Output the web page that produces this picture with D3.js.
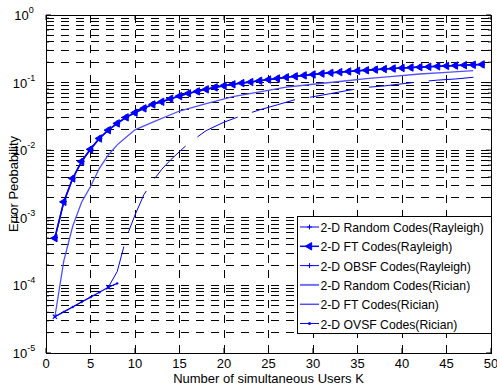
<!DOCTYPE html>
<html>
<head>
<meta charset="utf-8">
<script src="https://cdn.jsdelivr.net/npm/d3@7/dist/d3.min.js"></script>
<style>
body { margin: 0; background: #fff; }
text { font-family: "Liberation Sans", Arial, sans-serif; fill: #000; }
</style>
</head>
<body>
<div id="chart"></div>
<script>
// Error probability vs simultaneous users (log scale, matlab style)

var xTicks = [0, 5, 10, 15, 20, 25, 30, 35, 40, 45, 50];
var yDecades = [1e-5, 1e-4, 1e-3, 1e-2, 1e-1, 1];
var yTickExp = ['-5', '-4', '-3', '-2', '-1', '0'];

var kFull = [1, 2, 3, 4, 5, 6, 7, 8, 9, 10, 11, 12, 13, 14, 15, 16, 17, 18, 19, 20, 21, 22, 23, 24, 25,
    26, 27, 28, 29, 30, 31, 32, 33, 34, 35, 36, 37, 38, 39, 40, 41, 42, 43, 44, 45, 46, 47, 48, 49];
var randomRayleigh = [5.1e-4, 1.73e-3, 3.84e-3, 6.85e-3, 1.04e-2, 1.5e-2, 1.99e-2, 2.5e-2, 3.07e-2, 3.59e-2,
    4.17e-2, 4.78e-2, 5.22e-2, 5.78e-2, 6.33e-2, 6.95e-2, 7.43e-2, 7.96e-2, 8.51e-2, 9.0e-2,
    9.44e-2, 9.86e-2, 0.102, 0.1067, 0.111, 0.1153, 0.1198, 0.124, 0.128, 0.132,
    0.136, 0.1396, 0.143, 0.1464, 0.1495, 0.1526, 0.1557, 0.159, 0.1617, 0.1644,
    0.1672, 0.1695, 0.1718, 0.1742, 0.1766, 0.179, 0.1815, 0.1834, 0.1859];
var ftRayleigh = [5.0e-4, 1.72e-3, 3.82e-3, 6.8e-3, 1.03e-2, 1.49e-2, 1.98e-2, 2.49e-2, 3.06e-2, 3.58e-2,
    4.16e-2, 4.76e-2, 5.2e-2, 5.76e-2, 6.31e-2, 6.93e-2, 7.41e-2, 7.94e-2, 8.49e-2, 8.98e-2,
    9.42e-2, 9.84e-2, 0.1018, 0.1065, 0.1108, 0.1151, 0.1196, 0.1238, 0.1278, 0.1318,
    0.1358, 0.1394, 0.1428, 0.1462, 0.1493, 0.1524, 0.1555, 0.1588, 0.1615, 0.1642,
    0.167, 0.1693, 0.1716, 0.174, 0.1764, 0.1788, 0.1813, 0.1832, 0.1857];

var kObsf = [1, 7, 8, 9, 10, 11, 12, 13, 14, 16, 18, 20, 22, 24, 26, 28, 30, 32, 34, 36, 38, 40, 42, 44, 46, 48, 49];
var obsfRayleigh = [3.44e-5, 9.4e-5, 1.6e-4, 5.0e-4, 1.1e-3, 2.2e-3, 3.5e-3, 5.2e-3, 7.2e-3, 1.26e-2, 1.95e-2,
    2.6e-2, 3.25e-2, 3.95e-2, 4.7e-2, 5.6e-2, 6.18e-2, 6.88e-2, 7.7e-2, 8.5e-2, 8.93e-2, 9.6e-2,
    0.1027, 0.1089, 0.1131, 0.1198, 0.1222];
var obsfMarkK = [1, 7];

var kRician = [1, 2, 3, 4, 5, 6, 7, 8, 9, 10, 12, 15, 18, 21, 24, 27, 30, 33, 36, 39, 42, 45, 48];
var randomRician = [3.44e-5, 2.3e-4, 7.5e-4, 1.7e-3, 2.9e-3, 5.4e-3, 8.5e-3, 1.2e-2, 1.55e-2, 2.0e-2, 2.6e-2,
    3.8e-2, 4.9e-2, 6.2e-2, 7.3e-2, 8.55e-2, 9.46e-2, 0.1038, 0.1146, 0.124, 0.134, 0.142, 0.150];

var kOvsf = [1, 2, 3, 4, 5, 6, 7, 8];
var ovsfRician = [3.44e-5, 4.06e-5, 4.8e-5, 5.67e-5, 6.7e-5, 7.9e-5, 9.4e-5, 1.07e-4];

var legendLabels = ['2-D Random Codes(Rayleigh)', '2-D FT Codes(Rayleigh)', '2-D OBSF Codes(Rayleigh)',
    '2-D Random Codes(Rician)', '2-D FT Codes(Rician)', '2-D OVSF Codes(Rician)'];

var margin = { top: 15, right: 6, bottom: 37, left: 46 };
var width = 497 - margin.left - margin.right;
var height = 390 - margin.top - margin.bottom;

var svg = d3.select('#chart').append('svg').attr('width', 497).attr('height', 390);
var g = svg.append('g').attr('transform', 'translate(' + margin.left + ',' + margin.top + ')');

var x = d3.scaleLinear().domain([0, 50]).range([0, width]);
var y = d3.scaleLog().domain([1e-5, 1]).range([height, 0]);

// grid
var minorVals = [];
yDecades.slice(0, 5).forEach(function(d) {
    [1, 2, 3, 4, 5, 6, 7, 8, 9].forEach(function(m) { minorVals.push(d * m); });
});
var grid = g.append('g').attr('shape-rendering', 'crispEdges');
grid.selectAll('.hgrid').data(minorVals.slice(1)).enter().append('line')
    .attr('x1', 0).attr('x2', width)
    .attr('y1', function(d) { return y(d); }).attr('y2', function(d) { return y(d); })
    .attr('stroke', '#000').attr('stroke-dasharray', '8,7');
grid.selectAll('.vgrid').data(xTicks.slice(1, -1)).enter().append('line')
    .attr('x1', function(d) { return x(d); }).attr('x2', function(d) { return x(d); })
    .attr('y1', height).attr('y2', 0)
    .attr('stroke', '#000').attr('stroke-dasharray', '8,7');

// ticks
g.selectAll('.xtb').data(xTicks).enter().append('line')
    .attr('x1', function(d) { return x(d); }).attr('x2', function(d) { return x(d); })
    .attr('y1', height).attr('y2', height - 5).attr('stroke', '#000');
g.selectAll('.xtt').data(xTicks).enter().append('line')
    .attr('x1', function(d) { return x(d); }).attr('x2', function(d) { return x(d); })
    .attr('y1', 0).attr('y2', 5).attr('stroke', '#000');
g.selectAll('.ytl').data(minorVals.concat([1])).enter().append('line')
    .attr('x1', 0).attr('x2', function(d, i) { return i % 9 === 0 ? 5 : 3; })
    .attr('y1', function(d) { return y(d); }).attr('y2', function(d) { return y(d); }).attr('stroke', '#000');
g.selectAll('.ytr').data(minorVals.concat([1])).enter().append('line')
    .attr('x1', width).attr('x2', function(d, i) { return i % 9 === 0 ? width - 5 : width - 3; })
    .attr('y1', function(d) { return y(d); }).attr('y2', function(d) { return y(d); }).attr('stroke', '#000');

g.append('rect').attr('width', width).attr('height', height).attr('fill', 'none').attr('stroke', '#000')
    .attr('shape-rendering', 'crispEdges');

// tick labels
g.selectAll('.xl').data(xTicks).enter().append('text')
    .attr('x', function(d) { return x(d); }).attr('y', height + 15)
    .attr('text-anchor', 'middle').style('font-size', '13px').text(function(d) { return d; });
var yl = g.selectAll('.yl').data(yDecades).enter().append('text')
    .attr('x', -22).attr('y', function(d) { return y(d) + 5; })
    .attr('text-anchor', 'middle').style('font-size', '13px');
yl.append('tspan').text('10');
yl.append('tspan').attr('dy', -7).style('font-size', '9px').text(function(d, i) { return yTickExp[i]; });

svg.append('text').attr('x', margin.left + width / 2).attr('y', 383).attr('text-anchor', 'middle')
    .style('font-size', '13px').text('Number of simultaneous Users K');
svg.append('text').attr('transform', 'translate(18,' + (margin.top + height / 2) + ') rotate(-90)')
    .attr('text-anchor', 'middle').style('font-size', '13px').text('Error Peobability');

// lines
var clip = g.append('clipPath').attr('id', 'clip').append('rect').attr('width', width).attr('height', height);
var plot = g.append('g').attr('clip-path', 'url(#clip)');
function pts(ks, vs) { return ks.map(function(k, i) { return [k, vs[i]]; }); }
var line = d3.line().x(function(d) { return x(d[0]); }).y(function(d) { return y(d[1]); });

plot.append('path').datum(pts(kRician, randomRician)).attr('d', line)
    .attr('fill', 'none').attr('stroke', '#5050ff').attr('stroke-width', 1.3);
plot.append('path').datum(pts(kObsf, obsfRayleigh)).attr('d', line)
    .attr('fill', 'none').attr('stroke', '#0000ff').attr('stroke-width', 1).attr('stroke-dasharray', '45,15');
plot.append('path').datum(pts(kOvsf, ovsfRician)).attr('d', line)
    .attr('fill', 'none').attr('stroke', '#0000ff').attr('stroke-width', 1.2);
plot.append('path').datum(pts(kFull, randomRayleigh)).attr('d', line)
    .attr('fill', 'none').attr('stroke', '#0000ff').attr('stroke-width', 1.5);
plot.append('path').datum(pts(kFull, ftRayleigh)).attr('d', line)
    .attr('fill', 'none').attr('stroke', '#0000ff').attr('stroke-width', 1.5);

var tri = d3.symbol().type(d3.symbolTriangle).size(24);
function plusPath(s) { return 'M' + (-s) + ',0H' + s + 'M0,' + (-s) + 'V' + s; }

plot.selectAll('.ovsf').data(pts(kOvsf, ovsfRician)).enter().append('circle')
    .attr('cx', function(d) { return x(d[0]); }).attr('cy', function(d) { return y(d[1]); })
    .attr('r', 1.2).attr('fill', '#0000ff');
plot.selectAll('.obsfm').data(pts(kObsf, obsfRayleigh).filter(function(d) { return obsfMarkK.indexOf(d[0]) >= 0; }))
    .enter().append('path').attr('d', plusPath(3))
    .attr('transform', function(d) { return 'translate(' + x(d[0]) + ',' + y(d[1]) + ') rotate(45)'; })
    .attr('stroke', '#0000ff').attr('stroke-width', 1.2);
plot.selectAll('.rrm').data(pts(kFull, randomRayleigh)).enter().append('path').attr('d', plusPath(3))
    .attr('transform', function(d) { return 'translate(' + x(d[0]) + ',' + y(d[1]) + ')'; })
    .attr('stroke', '#0000ff').attr('stroke-width', 1.2);
plot.selectAll('.ftm').data(pts(kFull, ftRayleigh)).enter().append('path').attr('d', tri)
    .attr('transform', function(d) { return 'translate(' + x(d[0]) + ',' + y(d[1]) + ') rotate(-90)'; })
    .attr('fill', '#0000ff').attr('stroke', '#0000ff');

// legend
var lg = svg.append('g').attr('transform', 'translate(297,216)');
lg.append('rect').attr('width', 194).attr('height', 117).attr('fill', '#fff').attr('stroke', '#000')
    .attr('shape-rendering', 'crispEdges');
var rowY = function(i) { return 11 + i * 19.3; };
var legendColor = ['#0000ff', '#0000ff', '#0000ff', '#7070ff', '#0000ff', '#0000ff'];
var legendWidth = [1, 1.5, 1, 2, 1, 1];
legendLabels.forEach(function(label, i) {
    lg.append('line').attr('x1', 3).attr('x2', 22).attr('y1', rowY(i)).attr('y2', rowY(i))
        .attr('stroke', legendColor[i]).attr('stroke-width', legendWidth[i]);
    lg.append('text').attr('x', 23.5).attr('y', rowY(i) + 5).style('font-size', '12.2px').text(label);
});
lg.append('path').attr('d', plusPath(2.5)).attr('transform', 'translate(12.5,' + rowY(0) + ')')
    .attr('stroke', '#0000ff');
lg.append('path').attr('d', tri).attr('transform', 'translate(12.5,' + rowY(1) + ') rotate(-90)')
    .attr('fill', '#0000ff').attr('stroke', '#0000ff');
lg.append('path').attr('d', plusPath(2.5)).attr('transform', 'translate(12.5,' + rowY(2) + ')')
    .attr('stroke', '#0000ff');
lg.append('circle').attr('cx', 12.5).attr('cy', rowY(5)).attr('r', 1.5).attr('fill', '#0000ff');
</script>
</body>
</html>
